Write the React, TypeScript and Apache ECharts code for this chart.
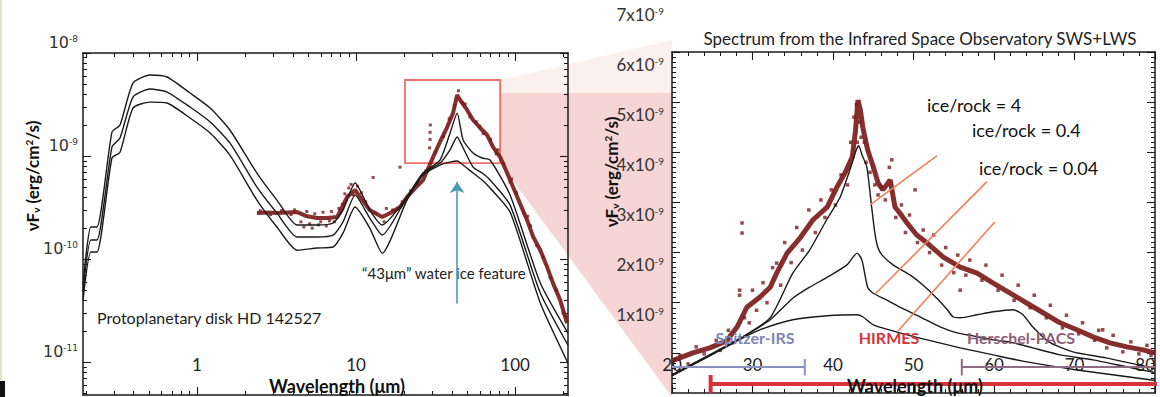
import React, { useEffect, useRef } from "react";
import * as echarts from "echarts";

const NARROW = "'Liberation Sans Narrow', 'Arial Narrow', Lato, sans-serif";
const SANS = "Lato, 'Open Sans', sans-serif";
const INK = "#1a1a1a";
const OBS = "#7b1c1a";

// ---------------- Left panel: SED of HD 142527 (log-log) ----------------
const leftXMin = 0.192;
const leftXMax = 215;
const leftYMin = 4.8e-12;
const leftYMax = 1e-8;
const leftXMajor = [1, 10, 100];
const leftYMajor = [1e-11, 1e-10, 1e-9, 1e-8];

const modelLambda = [0.192, 0.215, 0.235, 0.292, 0.328, 0.396, 0.506, 0.648, 0.904, 1.21, 1.61, 2.38, 3.18, 4.26, 5.69, 7.17, 8.28, 9.86, 12.2, 14.6, 20.9, 26.4, 33.7, 39.0, 43.2, 47.1, 54.4, 62.0, 69.6, 93, 144, 215];
const modelRatio4 = [5.6e-11, 2.05e-10, 2.05e-10, 1.71e-9, 2.0e-9, 5.11e-9, 6.11e-9, 5.85e-9, 4.09e-9, 2.92e-9, 1.79e-9, 6.84e-10, 3.74e-10, 2.14e-10, 2.14e-10, 2.24e-10, 2.99e-10, 5.47e-10, 2.99e-10, 2.14e-10, 4.0e-10, 6.84e-10, 9.15e-10, 1.67e-9, 2.61e-9, 1.43e-9, 1.07e-9, 9.57e-10, 9.15e-10, 4.18e-10, 5.85e-11, 1.91e-11];
const modelRatio04 = [4.79e-11, 1.53e-10, 1.53e-10, 1.22e-9, 1.5e-9, 3.74e-9, 4.47e-9, 4.18e-9, 2.99e-9, 2.14e-9, 1.34e-9, 5.0e-10, 2.8e-10, 1.64e-10, 1.64e-10, 1.71e-10, 2.29e-10, 4.18e-10, 2.5e-10, 1.71e-10, 4.0e-10, 6.84e-10, 8.55e-10, 1.15e-9, 1.53e-9, 1.2e-9, 7.82e-10, 6.84e-10, 5.85e-10, 3.34e-10, 4.68e-11, 1.46e-11];
const modelRatio004 = [4.0e-11, 1.17e-10, 1.17e-10, 9.57e-10, 1.09e-9, 2.92e-9, 3.34e-9, 3.27e-9, 2.34e-9, 1.67e-9, 1.02e-9, 3.74e-10, 2.05e-10, 1.22e-10, 1.28e-10, 1.31e-10, 1.79e-10, 3.2e-10, 2.0e-10, 1.14e-10, 3.74e-10, 6.55e-10, 8.18e-10, 8.74e-10, 8.94e-10, 8.18e-10, 6.84e-10, 5.85e-10, 4.89e-10, 2.86e-10, 3.74e-11, 9.77e-12];

const leftObserved = [[2.38, 2.8e-10], [2.76, 2.83e-10], [3.18, 2.8e-10], [3.68, 2.83e-10], [4.26, 2.86e-10], [4.92, 2.6e-10], [5.69, 2.5e-10], [6.57, 2.5e-10], [7.6, 2.56e-10], [8.78, 4.0e-10], [9.86, 4.68e-10], [10.6, 4.0e-10], [12.2, 2.99e-10], [14.6, 2.56e-10], [16.4, 2.8e-10], [18.9, 3.2e-10], [20.9, 4.0e-10], [23.5, 4.89e-10], [26.4, 5.85e-10], [30.5, 9.77e-10], [33.7, 1.37e-9], [37.4, 1.91e-9], [40.7, 2.61e-9], [43.2, 3.91e-9], [45.1, 3.5e-9], [49.9, 2.8e-9], [54.4, 2.24e-9], [60.3, 1.87e-9], [66.7, 1.6e-9], [72.7, 1.22e-9], [80.5, 9.77e-10], [89.1, 6.84e-10], [97.1, 5.0e-10], [107, 3.5e-10], [119, 2.39e-10], [130, 1.64e-10], [144, 1.22e-10], [159, 8.36e-11], [173, 5.85e-11], [192, 4.0e-11], [212, 2.39e-11]];
const leftObservedScatter = [[2.5, 2.95e-10], [2.9, 2.7e-10], [3.4, 2.95e-10], [3.9, 2.7e-10], [4.1, 3.0e-10], [4.5, 2.3e-10], [4.7, 2.05e-10], [4.9, 2.9e-10], [5.1, 2.2e-10], [5.3, 2.0e-10], [5.5, 2.75e-10], [5.8, 2.15e-10], [6.0, 2.3e-10], [6.2, 2.85e-10], [6.5, 2.1e-10], [6.8, 2.35e-10], [7.0, 2.9e-10], [7.3, 2.3e-10], [7.8, 3.1e-10], [8.2, 3.4e-10], [8.5, 4.3e-10], [9.0, 4.9e-10], [9.3, 5.3e-10], [9.6, 4.2e-10], [10.2, 5.1e-10], [10.8, 4.4e-10], [11.5, 3.6e-10], [12.8, 6.2e-10], [13.2, 2.8e-10], [15.0, 2.3e-10], [15.5, 3.1e-10], [17.0, 3.0e-10], [18.9, 7.8e-10], [19.5, 3.6e-10], [22.0, 4.6e-10], [24.5, 5.4e-10], [27.5, 7.2e-10], [29.2, 1.45e-9], [29.2, 1.7e-9], [29.3, 2.0e-9], [29.0, 1.2e-9], [31.5, 1.1e-9], [35.5, 1.55e-9], [38.5, 2.3e-9], [41.5, 3.1e-9], [44.0, 4.3e-9], [46.5, 3.3e-9], [48.5, 3.2e-9], [52.0, 2.4e-9], [57.0, 2.15e-9], [60.0, 1.95e-9], [63.0, 1.65e-9], [70.0, 1.45e-9], [76.0, 1.05e-9], [78.0, 1.15e-9], [85.0, 8.4e-10], [93.0, 5.6e-10], [95.0, 6.0e-10], [102.0, 4.4e-10], [113.0, 2.8e-10], [120.0, 2.6e-10], [125.0, 2.1e-10], [137.0, 1.35e-10], [150.0, 1.05e-10], [166.0, 6.6e-11], [182.0, 5.0e-11], [200.0, 3.0e-11], [208.0, 2.8e-11]];

const zoomBoxLambda = [20.3, 80.5];
const zoomBoxFlux = [8.55e-10, 5.47e-9];
const featureLambda = 43.2;
const featureArrowFlux = [3.7e-11, 5.6e-10];

// ---------------- Right panel: ISO spectrum (linear, flux in 1e-9 erg/cm2/s) ----------------
const rightXMin = 20;
const rightXMax = 80;
const rightYMin = 0.2;
const rightYMax = 7;
const rightYMajor = [1, 2, 3, 4, 5, 6, 7];

const rightRatio4 = [[20, 0.56], [24.7, 0.96], [28.8, 1.32], [32.2, 1.7], [35.0, 2.59], [37.1, 3.05], [39.2, 3.65], [40.9, 4.11], [42.1, 4.65], [42.9, 5.05], [43.2, 5.13], [43.6, 4.95], [44.2, 4.71], [44.8, 3.91], [45.2, 3.39], [45.6, 3.09], [46.1, 2.95], [47.5, 2.75], [49.6, 2.55], [51.2, 2.35], [52.9, 2.09], [54.2, 1.86], [54.9, 1.72], [55.8, 1.7], [57.9, 1.76], [59.9, 1.82], [62.4, 1.86], [63.6, 1.76], [64.8, 1.52], [66.8, 1.22], [69.8, 1.02], [73.9, 0.9], [79.2, 0.72], [80, 0.71]];
const rightRatio04 = [[20, 0.56], [24.7, 0.96], [28.8, 1.32], [32.2, 1.66], [35.0, 2.09], [37.1, 2.31], [39.3, 2.51], [41.7, 2.75], [43.0, 2.99], [43.6, 2.85], [44.3, 2.31], [45.0, 2.19], [46.7, 2.05], [48.3, 1.91], [50.8, 1.72], [53.3, 1.52], [55.4, 1.4], [57.4, 1.34], [59.9, 1.26], [62.4, 1.2], [64.8, 1.1], [68.2, 0.96], [72.3, 0.86], [76.5, 0.72], [79.6, 0.62], [80, 0.61]];
const rightRatio004 = [[20, 0.54], [24.7, 0.94], [28.8, 1.3], [30.9, 1.46], [35.0, 1.66], [39.3, 1.74], [43.0, 1.76], [43.7, 1.72], [45.0, 1.56], [48.3, 1.4], [51.7, 1.26], [55.8, 1.1], [59.9, 0.96], [64.1, 0.82], [70.3, 0.66], [79.6, 0.46], [80, 0.45]];

const rightObserved = [[20.0, 0.84], [22.6, 1.0], [24.7, 1.1], [26.8, 1.24], [28.1, 1.52], [29.3, 1.91], [30.9, 2.11], [32.2, 2.31], [33.0, 2.59], [34.3, 2.99], [35.9, 3.29], [37.5, 3.65], [39.3, 3.91], [40.5, 4.31], [41.5, 4.59], [42.4, 4.91], [42.8, 5.44], [43.1, 6.04], [43.4, 5.84], [43.7, 5.5], [44.3, 5.05], [45.0, 4.71], [45.6, 4.39], [46.2, 4.25], [47.1, 4.45], [47.7, 3.91], [48.3, 3.79], [49.2, 3.59], [50.4, 3.35], [51.7, 3.19], [53.7, 2.91], [55.8, 2.71], [57.9, 2.59], [59.9, 2.39], [62.0, 2.19], [64.1, 1.99], [66.1, 1.8], [68.2, 1.6], [70.3, 1.46], [72.3, 1.32], [74.4, 1.2], [76.5, 1.12], [78.5, 1.06], [80.0, 1.0]];
const rightObservedScatter = [[21.0, 0.95], [22.0, 0.78], [23.0, 1.12], [24.0, 0.98], [25.5, 1.25], [26.0, 1.05], [27.0, 1.45], [27.5, 1.2], [28.4, 2.25], [28.4, 2.15], [28.7, 3.59], [28.7, 3.39], [29.0, 1.7], [29.6, 1.6], [30.0, 2.25], [30.5, 1.85], [31.3, 2.4], [31.8, 2.0], [32.5, 2.7], [33.0, 2.79], [33.5, 2.35], [34.0, 3.2], [34.8, 2.8], [35.5, 3.5], [36.2, 3.05], [37.0, 3.85], [37.8, 3.4], [38.5, 4.05], [39.0, 3.7], [39.8, 4.25], [40.3, 3.95], [41.0, 4.55], [41.8, 4.35], [42.2, 5.2], [42.6, 5.7], [42.9, 5.95], [43.0, 5.2], [43.3, 5.6], [43.5, 5.3], [43.9, 5.2], [44.1, 4.8], [44.6, 4.6], [45.2, 4.35], [45.6, 4.15], [46.0, 4.3], [46.5, 4.05], [47.0, 4.7], [47.3, 4.85], [47.8, 3.7], [48.5, 3.95], [49.0, 3.4], [49.5, 3.75], [50.2, 4.25], [50.5, 3.2], [51.2, 3.45], [52.0, 3.0], [52.5, 3.35], [53.5, 2.75], [54.0, 3.1], [55.0, 2.6], [55.5, 2.95], [55.8, 2.25], [56.5, 2.55], [57.0, 2.85], [58.5, 2.45], [59.0, 2.75], [60.5, 2.25], [61.0, 2.55], [62.5, 2.05], [63.0, 2.35], [64.5, 1.9], [65.0, 2.15], [66.5, 1.7], [67.0, 1.95], [68.5, 1.5], [69.0, 1.75], [70.5, 1.38], [71.0, 1.6], [72.5, 1.25], [73.0, 1.45], [73.5, 1.46], [74.0, 1.1], [74.8, 1.35], [76.0, 1.02], [77.0, 1.22], [78.0, 0.98], [79.0, 1.15], [79.5, 0.95]];

const leaderLines = [
  [[44.6, 3.95], [52.9, 4.93]],
  [[45.2, 2.17], [59.1, 4.41]],
  [[48.1, 1.44], [60.1, 3.61]],
];

const spitzerRange = [20, 36.5];
const pacsRange = [56.0, 80];
const hirmesRange = [24.8, 80.6];

// ---------------- helpers ----------------
function logMinorTicks(lo: number, hi: number) {
  const out: number[] = [];
  for (let e = -12; e <= 3; e++) {
    for (let m = 2; m <= 9; m++) {
      const v = m * Math.pow(10, e);
      if (v >= lo && v <= hi) out.push(v);
    }
  }
  return out;
}
function linMinorTicks() {
  const out: number[] = [];
  for (let i = 3; i <= 69; i++) if (i % 10 !== 0) out.push(i / 10);
  return out;
}

const frameLine = { show: true, onZero: false, lineStyle: { color: INK, width: 1.5 } };
const noLine = { show: false, onZero: false };

function logAxis(grid: number, position: string, min: number, max: number, ticks: number[], len: number, line: boolean, extra: any = {}) {
  return {
    type: "log",
    logBase: 10,
    gridIndex: grid,
    position,
    min,
    max,
    axisLine: line ? frameLine : noLine,
    axisTick: { show: true, inside: true, length: len, customValues: ticks, lineStyle: { color: INK, width: 1.1 } },
    axisLabel: { show: false },
    splitLine: { show: false },
    minorTick: { show: false },
    ...extra,
  };
}

const yNameRich = {
  a: { fontFamily: SANS, fontSize: 17, fontWeight: "bold", fill: "#111" },
  s: { fontFamily: SANS, fontSize: 10, fontWeight: "bold", fill: "#111", verticalAlign: "bottom" },
  p: { fontFamily: SANS, fontSize: 10, fontWeight: "bold", fill: "#111", verticalAlign: "top" },
};

export default function App() {
  const ref = useRef<HTMLDivElement>(null);

  useEffect(() => {
    if (!ref.current) return;
    const chart = echarts.init(ref.current, undefined, { renderer: "svg" });

    const leftXMinor = logMinorTicks(leftXMin, leftXMax);
    const leftYMinor = logMinorTicks(leftYMin, leftYMax);
    const rightYMinor = linMinorTicks();

    const xAxes: any[] = [
      logAxis(0, "bottom", leftXMin, leftXMax, leftXMajor, 8, true, {
        axisLabel: {
          show: true,
          inside: true,
          margin: 23,
          customValues: leftXMajor,
          formatter: (v: number) => String(Math.round(v)),
          fontFamily: NARROW,
          fontSize: 17,
          lineHeight: 16,
          color: "#222",
        },
      }),
      logAxis(0, "top", leftXMin, leftXMax, leftXMajor, 8, true),
      logAxis(0, "bottom", leftXMin, leftXMax, leftXMinor, 4, false),
      logAxis(0, "top", leftXMin, leftXMax, leftXMinor, 4, false),
      {
        type: "value",
        gridIndex: 1,
        position: "bottom",
        min: rightXMin,
        max: rightXMax,
        interval: 10,
        axisLine: frameLine,
        axisTick: { show: true, inside: true, length: 8, lineStyle: { color: INK, width: 1.1 } },
        minorTick: { show: true, splitNumber: 5, length: 4, lineStyle: { color: INK, width: 1 } },
        axisLabel: { show: true, inside: true, margin: 21, alignMaxLabel: "right", fontFamily: NARROW, fontSize: 17, lineHeight: 16, color: "#222" },
        splitLine: { show: false },
      },
      {
        type: "value",
        gridIndex: 1,
        position: "top",
        min: rightXMin,
        max: rightXMax,
        interval: 10,
        axisLine: frameLine,
        axisTick: { show: true, inside: true, length: 8, lineStyle: { color: INK, width: 1.1 } },
        minorTick: { show: true, splitNumber: 5, length: 4, lineStyle: { color: INK, width: 1 } },
        axisLabel: { show: false },
        splitLine: { show: false },
      },
    ];

    const yAxes: any[] = [
      logAxis(0, "left", leftYMin, leftYMax, leftYMajor, 8, true, {
        axisLabel: {
          show: true,
          margin: 5,
          customValues: leftYMajor,
          padding: [0, 0, 22, 0],
          formatter: (v: number) => `{n|10}{e|${Math.round(Math.log10(v))}}`,
          rich: {
            n: { fontFamily: "'DejaVu Sans', sans-serif", fontSize: 16, color: "#333" },
            e: { fontFamily: "'DejaVu Sans', sans-serif", fontSize: 9, color: "#333", verticalAlign: "top" },
          },
        },
      }),
      logAxis(0, "right", leftYMin, leftYMax, leftYMajor, 8, true),
      logAxis(0, "left", leftYMin, leftYMax, leftYMinor, 4, false),
      logAxis(0, "right", leftYMin, leftYMax, leftYMinor, 4, false),
      {
        type: "value",
        gridIndex: 1,
        position: "left",
        min: rightYMin,
        max: rightYMax,
        axisLine: frameLine,
        axisTick: { show: true, inside: true, length: 8, customValues: rightYMajor, lineStyle: { color: INK, width: 1.1 } },
        axisLabel: {
          show: true,
          margin: 8,
          customValues: rightYMajor,
          padding: [0, 0, 76, 0],
          formatter: (v: number) => `{n|${Math.round(v)}x10}{e|-9}`,
          rich: {
            n: { fontFamily: NARROW, fontSize: 17, color: "#333" },
            e: { fontFamily: NARROW, fontSize: 10, color: "#333", verticalAlign: "top" },
          },
        },
        splitLine: { show: false },
      },
      {
        type: "value",
        gridIndex: 1,
        position: "right",
        min: rightYMin,
        max: rightYMax,
        axisLine: frameLine,
        axisTick: { show: true, inside: true, length: 8, customValues: rightYMajor, lineStyle: { color: INK, width: 1.1 } },
        axisLabel: { show: false },
        splitLine: { show: false },
      },
      {
        type: "value",
        gridIndex: 1,
        position: "left",
        min: rightYMin,
        max: rightYMax,
        axisLine: noLine,
        axisTick: { show: true, inside: true, length: 4, customValues: rightYMinor, lineStyle: { color: INK, width: 1 } },
        axisLabel: { show: false },
        splitLine: { show: false },
      },
      {
        type: "value",
        gridIndex: 1,
        position: "right",
        min: rightYMin,
        max: rightYMax,
        axisLine: noLine,
        axisTick: { show: true, inside: true, length: 4, customValues: rightYMinor, lineStyle: { color: INK, width: 1 } },
        axisLabel: { show: false },
        splitLine: { show: false },
      },
    ];

    const modelLine = (name: string, data: any[], xi: number, yi: number) => ({
      type: "line",
      name,
      xAxisIndex: xi,
      yAxisIndex: yi,
      data,
      symbol: "none",
      smooth: 0.2,
      lineStyle: { color: INK, width: 1.4 },
      z: 5,
      silent: true,
    });

    const plainLine = (data: any[], color: string, width: number, z = 4, clip = true) => ({
      type: "line",
      xAxisIndex: 4,
      yAxisIndex: 4,
      data,
      symbol: "none",
      lineStyle: { color, width },
      z,
      clip,
      silent: true,
    });

    const series: any[] = [
      {
        type: "line",
        name: "HD 142527 observed",
        xAxisIndex: 0,
        yAxisIndex: 0,
        data: leftObserved,
        symbol: "none",
        lineStyle: { color: OBS, width: 4, opacity: 0.92 },
        z: 3,
        silent: true,
        markArea: {
          silent: true,
          itemStyle: { color: "rgba(0,0,0,0)", borderColor: "#ef6f6c", borderWidth: 1.8 },
          data: [[{ coord: [zoomBoxLambda[0], zoomBoxFlux[1]] }, { coord: [zoomBoxLambda[1], zoomBoxFlux[0]] }]],
        },
        markLine: {
          silent: true,
          symbol: ["none", "arrow"],
          symbolSize: 11,
          label: { show: false },
          lineStyle: { color: "#4a9cb4", width: 1.6, type: "solid" },
          data: [[{ coord: [featureLambda, featureArrowFlux[0]] }, { coord: [featureLambda, featureArrowFlux[1]] }]],
        },
      },
      {
        type: "scatter",
        xAxisIndex: 0,
        yAxisIndex: 0,
        data: leftObservedScatter,
        symbol: "rect",
        symbolSize: 3,
        itemStyle: { color: OBS },
        z: 3,
        silent: true,
      },
      modelLine("ice/rock = 4", modelLambda.map((l, i) => [l, modelRatio4[i]]), 0, 0),
      modelLine("ice/rock = 0.4", modelLambda.map((l, i) => [l, modelRatio04[i]]), 0, 0),
      modelLine("ice/rock = 0.04", modelLambda.map((l, i) => [l, modelRatio004[i]]), 0, 0),

      {
        type: "line",
        name: "ISO SWS+LWS",
        xAxisIndex: 4,
        yAxisIndex: 4,
        data: rightObserved,
        symbol: "none",
        lineStyle: { color: OBS, width: 5, opacity: 0.92 },
        z: 3,
        silent: true,
      },
      {
        type: "scatter",
        xAxisIndex: 4,
        yAxisIndex: 4,
        data: rightObservedScatter,
        symbol: "rect",
        symbolSize: 3.5,
        itemStyle: { color: OBS },
        z: 3,
        silent: true,
      },
      modelLine("ice/rock = 4 (ISO)", rightRatio4, 4, 4),
      modelLine("ice/rock = 0.4 (ISO)", rightRatio04, 4, 4),
      modelLine("ice/rock = 0.04 (ISO)", rightRatio004, 4, 4),
      ...leaderLines.map((seg) => plainLine(seg, "#f08058", 1.6, 6)),
      plainLine([[spitzerRange[0], 0.72], [spitzerRange[1], 0.72], [spitzerRange[1], 0.88], [spitzerRange[1], 0.55]], "#8a93c0", 2, 6),
      plainLine([[pacsRange[1], 0.72], [pacsRange[0], 0.72], [pacsRange[0], 0.88], [pacsRange[0], 0.55]], "#8f6a80", 2, 6),
      plainLine([[hirmesRange[1], 0.38], [hirmesRange[0], 0.38], [hirmesRange[0], 0.56], [hirmesRange[0], 0.2]], "#d6323a", 4, 6, false),
    ];

    const graphic: any[] = [
      { type: "polygon", z: -10, silent: true, shape: { points: [[500, 80], [672, 40], [672, 93], [500, 93]] }, style: { fill: "#fbf0ee" } },
      { type: "polygon", z: -10, silent: true, shape: { points: [[500, 93], [672, 93], [672, 397], [500, 163]] }, style: { fill: "#f6d6d4" } },
      { type: "rect", z: -10, silent: true, shape: { x: 0, y: 0, width: 2, height: 380 }, style: { fill: "#dfe6c8" } },
      { type: "rect", z: -10, silent: true, shape: { x: 0, y: 381, width: 5, height: 16 }, style: { fill: "#111" } },
      {
        type: "text", x: 97, y: 317, silent: true,
        style: { text: "Protoplanetary disk HD 142527", fontFamily: SANS, fontSize: 16, fill: "#222", align: "left", verticalAlign: "middle" },
      },
      {
        type: "text", x: 362, y: 273, silent: true,
        style: { text: "“43μm” water ice feature", fontFamily: SANS, fontSize: 15, fill: "#222", align: "left", verticalAlign: "middle" },
      },
      {
        type: "text", x: 337, y: 386, z: 20, silent: true,
        style: { text: "Wavelength (μm)", fontFamily: SANS, fontSize: 18, lineHeight: 17, fontWeight: "bold", fill: "#111", align: "center", verticalAlign: "middle" },
      },
      {
        type: "text", x: 915, y: 386, z: 20, silent: true,
        style: { text: "Wavelength (μm)", fontFamily: SANS, fontSize: 18, lineHeight: 17, fontWeight: "bold", fill: "#111", align: "center", verticalAlign: "middle" },
      },
      {
        type: "text", x: 32, y: 176, rotation: Math.PI / 2, silent: true,
        style: { text: "{a|νF}{s|ν}{a| (erg/cm}{p|2}{a|/s)}", align: "center", verticalAlign: "middle", rich: yNameRich },
      },
      {
        type: "text", x: 611, y: 172, rotation: Math.PI / 2, silent: true,
        style: { text: "{a|νF}{s|ν}{a| (erg/cm}{p|2}{a|/s)}", align: "center", verticalAlign: "middle", rich: yNameRich },
      },
      { type: "text", x: 927, y: 105, silent: true, style: { text: "ice/rock = 4", fontFamily: SANS, fontSize: 18, fill: "#111", align: "left", verticalAlign: "middle" } },
      { type: "text", x: 972, y: 130, silent: true, style: { text: "ice/rock = 0.4", fontFamily: SANS, fontSize: 18, fill: "#111", align: "left", verticalAlign: "middle" } },
      { type: "text", x: 979, y: 168, silent: true, style: { text: "ice/rock = 0.04", fontFamily: SANS, fontSize: 18, fill: "#111", align: "left", verticalAlign: "middle" } },
      { type: "text", x: 755, y: 337, z: 20, silent: true, style: { text: "Spitzer-IRS", fontFamily: NARROW, fontSize: 16, fontWeight: "bold", fill: "#7d87b6", align: "center", verticalAlign: "middle" } },
      { type: "text", x: 889, y: 337, z: 20, silent: true, style: { text: "HIRMES", fontFamily: NARROW, fontSize: 16, fontWeight: "bold", fill: "#d6343b", align: "center", verticalAlign: "middle" } },
      { type: "text", x: 1021, y: 337, z: 20, silent: true, style: { text: "Herschel-PACS", fontFamily: NARROW, fontSize: 16, fontWeight: "bold", fill: "#8c5e76", align: "center", verticalAlign: "middle" } },
    ];

    chart.setOption({
      animation: false,
      backgroundColor: "#ffffff",
      title: {
        text: "Spectrum from the Infrared Space Observatory SWS+LWS",
        left: 915,
        top: 25,
        textAlign: "center",
        textStyle: { fontFamily: SANS, fontSize: 17, fontWeight: "normal", color: "#222" },
      },
      grid: [
        { left: 83, top: 53, width: 485, height: 342, containLabel: false, outerBoundsMode: "none" },
        { left: 672, top: 52, width: 483, height: 341, containLabel: false, outerBoundsMode: "none" },
      ],
      xAxis: xAxes,
      yAxis: yAxes,
      series,
      graphic,
    });

    return () => chart.dispose();
  }, []);

  return <div ref={ref} style={{ position: "absolute", left: 0, top: 0, width: 1160, height: 397 }} />;
}
